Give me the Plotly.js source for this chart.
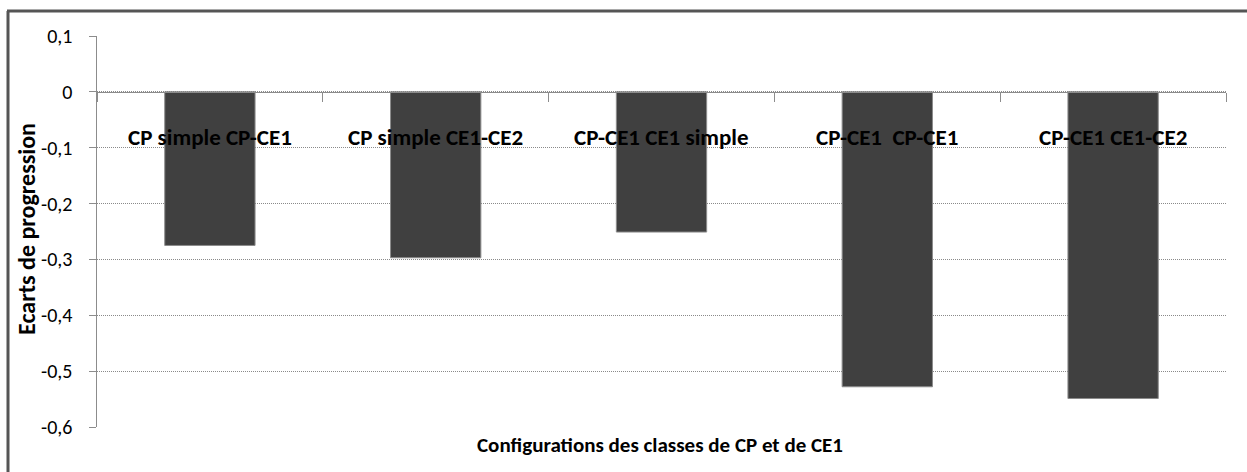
<!DOCTYPE html>
<html>
<head>
<meta charset="utf-8">
<script src="https://cdn.plot.ly/plotly-3.0.1.min.js"></script>
<style>
  html, body { margin: 0; padding: 0; background: #ffffff; }
  #chart { width: 1247px; height: 472px; }
</style>
</head>
<body>
<div id="chart"></div>
<script>
// ---- Data ----
const categories = [
  "CP simple CP-CE1",
  "CP simple CE1-CE2",
  "CP-CE1 CE1 simple",
  "CP-CE1  CP-CE1",
  "CP-CE1 CE1-CE2"
];
const ecarts = [-0.275, -0.297, -0.251, -0.528, -0.549];
const yTickValues = [0.1, 0, -0.1, -0.2, -0.3, -0.4, -0.5, -0.6];
const yTickLabels = ["0,1", "0", "-0,1", "-0,2", "-0,3", "-0,4", "-0,5", "-0,6"];
const xTitle = "Configurations des classes de CP et de CE1";
const yTitle = "Ecarts de progression";

const FONT = "Carlito, 'Liberation Sans Narrow', 'Open Sans', sans-serif";

const trace = {
  type: "bar",
  x: categories,
  y: ecarts,
  marker: { color: "#404040", line: { color: "#8c8c8c", width: 1 } },
  hoverinfo: "x+y"
};

const annotations = categories.map(c => ({
  x: c, y: -0.08, xref: "x", yref: "y",
  text: "<b>" + c + "</b>", showarrow: false,
  xanchor: "center", yanchor: "middle",
  font: { family: FONT, size: 23, color: "#000000" }
}));
annotations.push({
  x: (660 - 97) / 1129, y: -18 / 391, xref: "paper", yref: "paper",
  text: "<b>" + xTitle + "</b>", showarrow: false,
  xanchor: "center", yanchor: "middle",
  font: { family: FONT, size: 21, color: "#000000" }
});
annotations.push({
  x: (27 - 97) / 1129, y: (427 - 229) / 391, xref: "paper", yref: "paper",
  text: "<b>" + yTitle + "</b>", showarrow: false, textangle: -90,
  xanchor: "center", yanchor: "middle",
  font: { family: FONT, size: 24, color: "#000000" }
});

const layout = {
  width: 1247, height: 472,
  margin: { l: 97, r: 21, t: 36, b: 45 },
  paper_bgcolor: "#ffffff", plot_bgcolor: "#ffffff",
  showlegend: false,
  bargap: 0.6,
  separators: ",.",
  font: { family: FONT, color: "#000000" },
  xaxis: {
    type: "category",
    anchor: "free",
    position: 0.6 / 0.7,
    showticklabels: false,
    tickson: "boundaries",
    ticks: "outside", ticklen: 9, tickcolor: "#8c8c8c", tickwidth: 1,
    showline: true, linecolor: "#8c8c8c", linewidth: 1.5,
    showgrid: false, zeroline: false
  },
  yaxis: {
    range: [-0.6, 0.1],
    tickvals: yTickValues, ticktext: yTickLabels,
    ticks: "outside", ticklen: 7, tickcolor: "#8c8c8c", tickwidth: 1,
    ticklabelstandoff: 12,
    showline: true, linecolor: "#8c8c8c", linewidth: 1.5,
    showgrid: true, gridcolor: "#8a8a8a", griddash: "1px,1px", gridwidth: 1,
    zeroline: false,
    tickfont: { family: FONT, size: 20, color: "#000000" }
  },
  annotations: annotations,
  shapes: [
    { type: "line", xref: "paper", yref: "paper", x0: -90/1129, x1: 1.1, y0: (427-11)/391, y1: (427-11)/391,
      line: { color: "#555555", width: 3 } },
    { type: "line", xref: "paper", yref: "paper", x0: -89/1129, x1: -89/1129, y0: (427-11)/391, y1: -0.2,
      line: { color: "#555555", width: 3 } }
  ]
};

Plotly.newPlot("chart", [trace], layout, { displayModeBar: false, staticPlot: true });
</script>
</body>
</html>
